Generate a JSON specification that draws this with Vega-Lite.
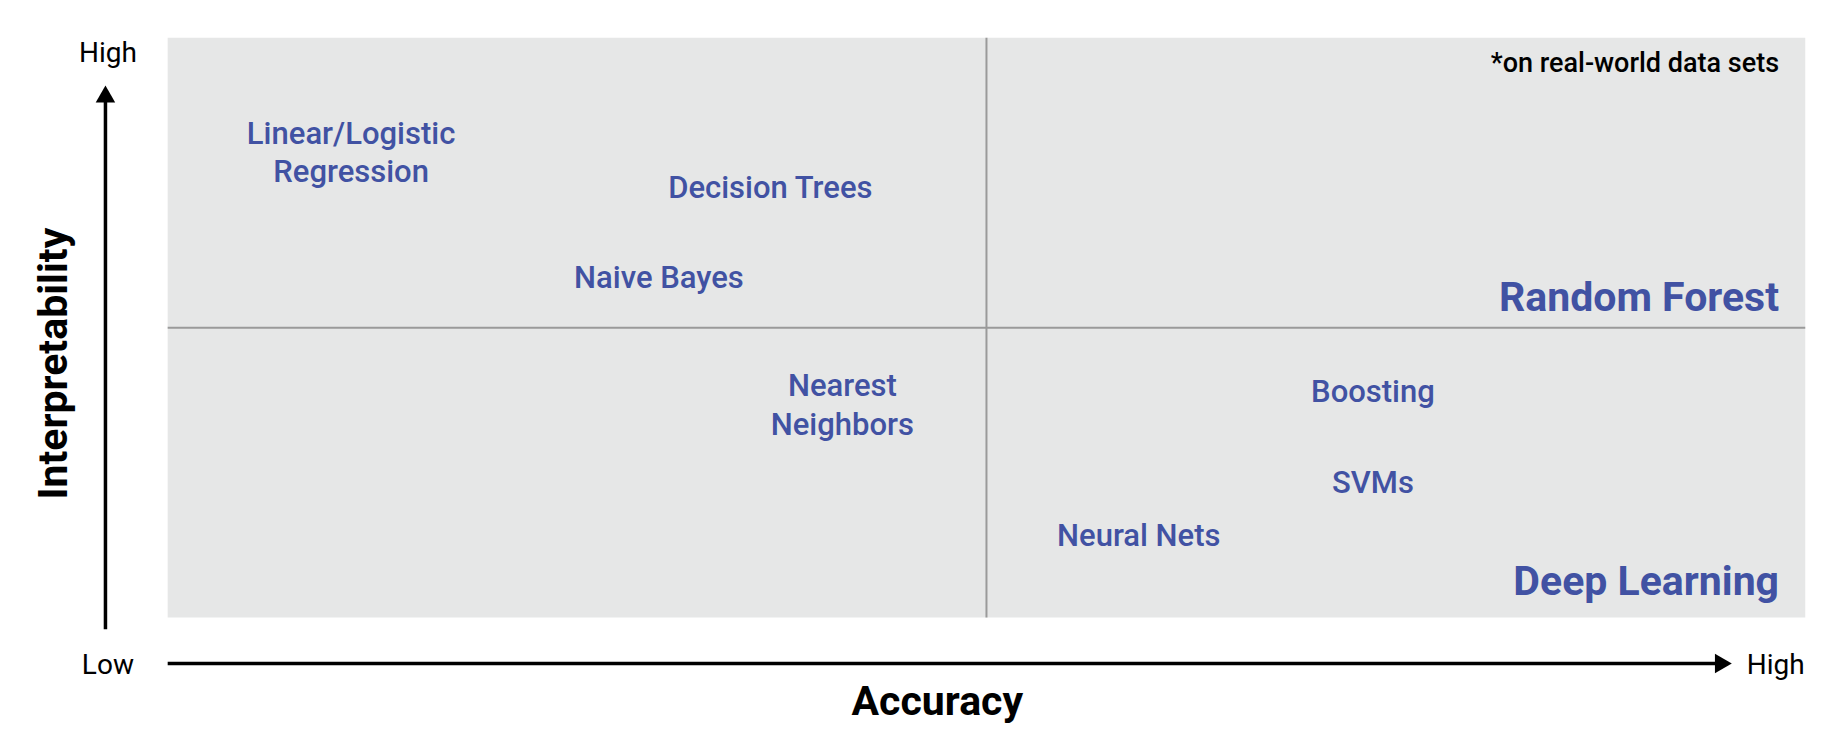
{
  "$schema": "https://vega.github.io/schema/vega-lite/v6.json",
  "width": 1838,
  "height": 744,
  "autosize": {"type": "fit", "contains": "padding"},
  "padding": 0,
  "background": "white",
  "config": {"view": {"stroke": null}, "font": "Roboto"},
  "datasets": {
    "panel": [{"x": 0, "x2": 100, "y": 0, "y2": 100}],
    "dividers": [
      {"x": 50, "x2": 50, "y": 0, "y2": 100},
      {"x": 0, "x2": 100, "y": 50, "y2": 50}
    ],
    "arrows": [
      {"x": -3.8, "x2": -3.8, "y": -2.0, "y2": 89.5},
      {"x": 0, "x2": 94.6, "y": -7.9, "y2": -7.9}
    ],
    "heads": [
      {"x": -3.8, "y": 90.3, "shape": "triangle-up"},
      {"x": 95.0, "y": -7.9, "shape": "triangle-right"}
    ],
    "models": [
      {"label": "Linear/Logistic", "x": 11.2, "y": 83.2},
      {"label": "Regression", "x": 11.2, "y": 76.6},
      {"label": "Decision Trees", "x": 36.8, "y": 73.9},
      {"label": "Naive Bayes", "x": 30.0, "y": 58.4},
      {"label": "Nearest", "x": 41.2, "y": 39.8},
      {"label": "Neighbors", "x": 41.2, "y": 33.1},
      {"label": "Boosting", "x": 73.6, "y": 38.8},
      {"label": "SVMs", "x": 73.6, "y": 23.0},
      {"label": "Neural Nets", "x": 59.3, "y": 13.9}
    ],
    "families": [
      {"label": "Random Forest", "x": 98.4, "y": 54.9},
      {"label": "Deep Learning", "x": 98.4, "y": 5.9}
    ],
    "ticks": [
      {"label": "High", "x": -3.65, "y": 97.2},
      {"label": "Low", "x": -3.65, "y": -8.3},
      {"label": "High", "x": 98.2, "y": -8.3}
    ]
  },
  "encoding": {
    "x": {"field": "x", "type": "quantitative", "scale": {"domain": [-10.24, 102.0], "nice": false, "zero": false}, "axis": null},
    "y": {"field": "y", "type": "quantitative", "scale": {"domain": [-21.8, 106.5], "nice": false, "zero": false}, "axis": null}
  },
  "layer": [
    {
      "data": {"name": "panel"},
      "mark": {"type": "rect", "color": "#e6e7e7"},
      "encoding": {"x2": {"field": "x2"}, "y2": {"field": "y2"}}
    },
    {
      "data": {"name": "dividers"},
      "mark": {"type": "rule", "color": "#9a9a9a", "strokeWidth": 2},
      "encoding": {"x2": {"field": "x2"}, "y2": {"field": "y2"}}
    },
    {
      "data": {"name": "arrows"},
      "mark": {"type": "rule", "color": "black", "strokeWidth": 3.5},
      "encoding": {"x2": {"field": "x2"}, "y2": {"field": "y2"}}
    },
    {
      "data": {"name": "heads"},
      "mark": {"type": "point", "filled": true, "color": "black", "opacity": 1, "size": 380},
      "encoding": {"shape": {"field": "shape", "type": "nominal", "scale": null}}
    },
    {
      "data": {"name": "models"},
      "mark": {"type": "text", "fontSize": 31, "fontWeight": 500, "color": "#4152a3", "align": "center", "baseline": "middle"},
      "encoding": {"text": {"field": "label"}}
    },
    {
      "data": {"name": "families"},
      "mark": {"type": "text", "fontSize": 41, "fontWeight": "bold", "color": "#4152a3", "align": "right", "baseline": "middle"},
      "encoding": {"text": {"field": "label"}}
    },
    {
      "data": {"values": [{"label": "*on real-world data sets", "x": 98.4, "y": 95.4}]},
      "mark": {"type": "text", "fontSize": 27, "fontWeight": 500, "color": "black", "align": "right", "baseline": "middle"},
      "encoding": {"text": {"field": "label"}}
    },
    {
      "data": {"name": "ticks"},
      "mark": {"type": "text", "fontSize": 28, "color": "black", "align": "center", "baseline": "middle"},
      "encoding": {"text": {"field": "label"}}
    },
    {
      "data": {"values": [{"label": "Accuracy", "x": 47.0, "y": -14.7}]},
      "mark": {"type": "text", "fontSize": 41, "fontWeight": "bold", "color": "black", "align": "center", "baseline": "middle"},
      "encoding": {"text": {"field": "label"}}
    },
    {
      "data": {"values": [{"label": "Interpretability", "x": -6.9, "y": 43.8}]},
      "mark": {"type": "text", "fontSize": 41, "fontWeight": "bold", "color": "black", "align": "center", "baseline": "middle", "angle": 270},
      "encoding": {"text": {"field": "label"}}
    }
  ]
}
